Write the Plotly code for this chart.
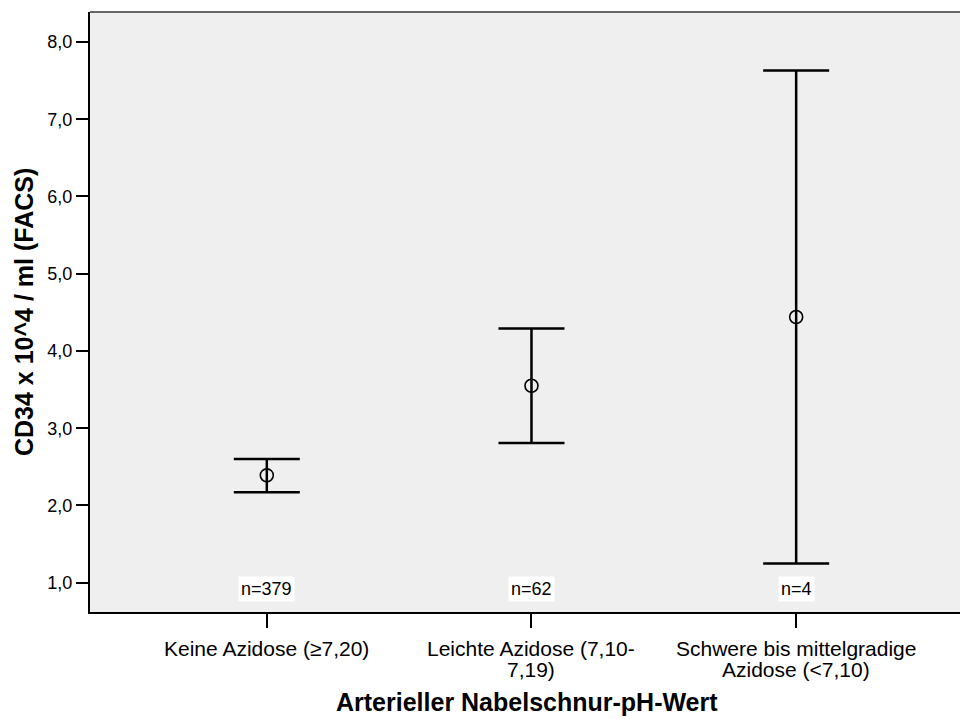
import plotly.graph_objects as go

# ---- data ----
categories = ["Keine Azidose (≥7,20)",
              "Leichte Azidose (7,10-\n7,19)",
              "Schwere bis mittelgradige\nAzidose (<7,10)"]
mean_vals = [2.39, 3.55, 4.44]
ci_lower = [2.17, 2.81, 1.25]
ci_upper = [2.60, 4.29, 7.63]
n_labels = ["n=379", "n=62", "n=4"]
y_tickvals = [1, 2, 3, 4, 5, 6, 7, 8]
y_ticktext = ["1,0", "2,0", "3,0", "4,0", "5,0", "6,0", "7,0", "8,0"]
x_title = "Arterieller Nabelschnur-pH-Wert"
y_title = "CD34 x 10^4 / ml (FACS)"

FONT = "Liberation Sans, Arial, sans-serif"
W, H = 960, 719
ML, MR, MT, MB = 90, 0, 12, 107
PH = H - MT - MB

def py(p):  # pixel y -> paper y
    return (H - MB - p) / PH

def px(p):  # pixel x -> paper x
    return (p - ML) / (W - ML - MR)

xpos = list(range(len(categories)))

fig = go.Figure()
fig.add_trace(go.Scatter(
    x=xpos, y=mean_vals, mode="markers",
    marker=dict(symbol="circle-open", size=13, color="black",
                line=dict(width=1.6, color="black")),
    error_y=dict(type="data", symmetric=False,
                 array=[u - m for u, m in zip(ci_upper, mean_vals)],
                 arrayminus=[m - l for m, l in zip(mean_vals, ci_lower)],
                 color="black", thickness=2.5, width=33),
    showlegend=False, hoverinfo="skip"))

annotations = []
# n labels
for i, t in enumerate(n_labels):
    annotations.append(dict(x=xpos[i], y=0.921, xref="x", yref="y", text=t,
                            showarrow=False, bgcolor="white", borderpad=2,
                            font=dict(family=FONT, size=18, color="black")))
# category labels (tight line spacing)
for i, c in enumerate(categories):
    for j, line in enumerate(c.split("\n")):
        annotations.append(dict(x=xpos[i], y=py(648 + j * 21.7), xref="x", yref="paper",
                                text=line, showarrow=False, yanchor="middle",
                                font=dict(family=FONT, size=21, color="black")))
# axis titles
annotations.append(dict(x=px(527), y=py(702), xref="paper", yref="paper",
                        text="<b>%s</b>" % x_title, showarrow=False, yanchor="middle",
                        font=dict(family=FONT, size=25, color="black")))
annotations.append(dict(x=px(24), y=py(312), xref="paper", yref="paper",
                        text="<b>%s</b>" % y_title, showarrow=False, textangle=-90,
                        xanchor="center", yanchor="middle",
                        font=dict(family=FONT, size=25, color="black")))

fig.update_layout(
    width=W, height=H,
    margin=dict(l=ML, r=MR, t=MT, b=MB, pad=0),
    paper_bgcolor="white", plot_bgcolor="#efefef",
    font=dict(family=FONT, color="black"),
    annotations=annotations,
    shapes=[dict(type="line", xref="paper", yref="paper", x0=0, x1=1, y0=1, y1=1,
                 line=dict(color="#666666", width=2))],
    xaxis=dict(range=[-0.668, 2.619], tickvals=xpos, ticktext=["", "", ""],
               showline=True, linecolor="black", linewidth=2,
               ticks="outside", ticklen=14, tickwidth=2, tickcolor="black",
               showgrid=False, zeroline=False, fixedrange=True),
    yaxis=dict(range=[0.621, 8.388], tickvals=y_tickvals, ticktext=y_ticktext,
               showline=True, linecolor="black", linewidth=2,
               ticks="outside", ticklen=12, tickwidth=2, tickcolor="black",
               tickfont=dict(family=FONT, size=18, color="black"),
               showgrid=False, zeroline=False, fixedrange=True),
)

fig.write_html("out.html")
